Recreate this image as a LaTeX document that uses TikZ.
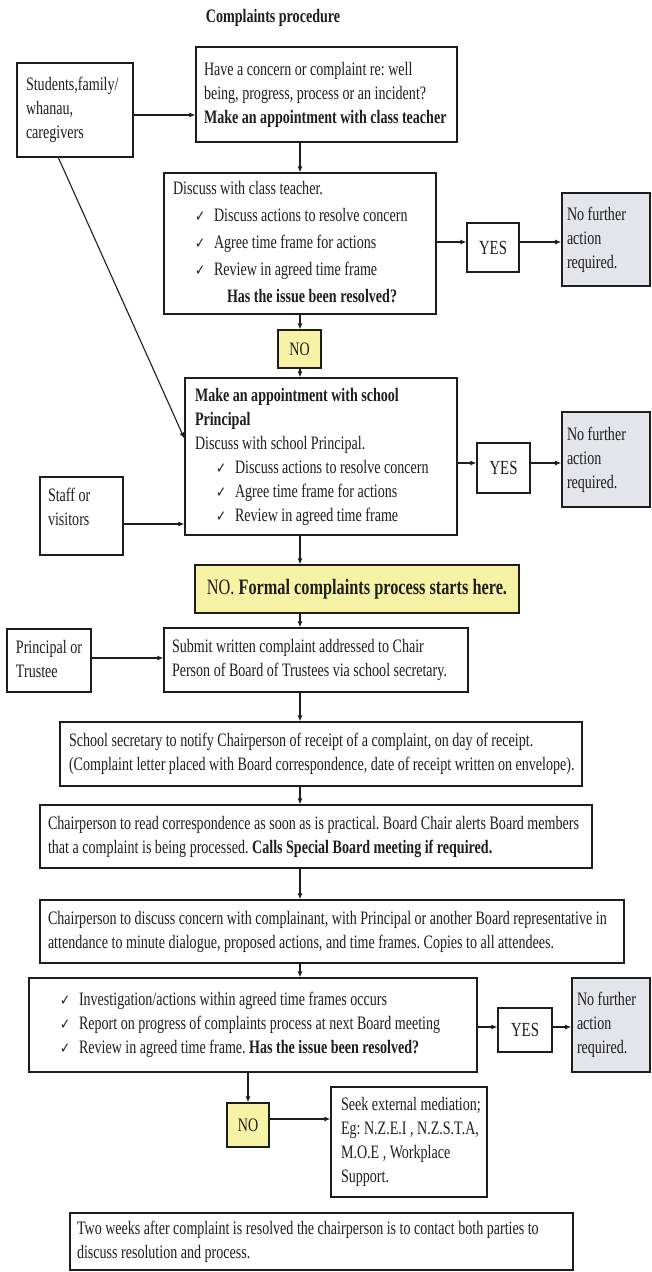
\documentclass[tikz,border=0pt]{standalone}
\usepackage{fontspec}
\setmainfont{Liberation Serif}[FakeStretch=0.74]
\newfontfamily\ckfont{DejaVu Sans}[FakeStretch=0.8]
\usetikzlibrary{arrows.meta,calc}
\definecolor{nofill}{HTML}{F6F2A6}
\definecolor{grayfill}{HTML}{E4E5EA}
\definecolor{ink}{HTML}{1E1E1E}
\newcommand\fs{\fontsize{19pt}{24pt}\selectfont\frenchspacing}
\newcommand\bt[2]{\makebox[#1][l]{\begin{tabular}{@{}l@{}}#2\end{tabular}}}
\newcommand\ck{\makebox[19pt][l]{{\ckfont\fontsize{15pt}{15pt}\selectfont ✓}}}
\newcommand\itm[2]{\hspace*{#1}\ck #2}
\begin{document}
\begin{tikzpicture}[x=1pt,y=-1pt,
  every node/.style={font=\fs, text=ink},
  box/.style={draw=ink, line width=1.3pt, fill=white, inner ysep=0pt},
  graybox/.style={box, fill=grayfill, line width=1.6pt},
  nobox/.style={box, fill=nofill},
  yesbox/.style={box, inner sep=0pt, font=\fontsize{20pt}{24pt}\selectfont},
  arr/.style={-{Latex[length=6pt,width=5pt]}, line width=1.1pt, draw=ink}]
\fill[white] (0,0) rectangle (652,1272);
\useasboundingbox (0,0) rectangle (652,1272);

\node[font=\fs\bfseries] (title) at (273,18) {Complaints procedure};

\node[box, minimum width=116pt, minimum height=94pt, inner xsep=9pt] (students) at (75,110)
  {\bt{98pt}{Students,family/\\whanau,\\caregivers}};
\node[box, minimum width=261pt, minimum height=95pt, inner xsep=8pt] (concern) at (326.5,94.5)
  {\bt{245pt}{Have a concern or complaint re: well\\being, progress, process or an incident?\\\textbf{Make an appointment with class teacher}}};
\node[box, minimum width=272pt, minimum height=141pt, inner xsep=9pt] (discuss) at (300,243.5)
  {\bt{254pt}{Discuss with class teacher.\\[3pt]
   \itm{22pt}{Discuss actions to resolve concern}\\[3pt]
   \itm{22pt}{Agree time frame for actions}\\[3pt]
   \itm{22pt}{Review in agreed time frame}\\[3pt]
   \hspace*{54pt}\textbf{Has the issue been resolved?}}};
\node[yesbox, minimum width=52pt, minimum height=49pt] (yes1) at (493,247.5) {YES};
\node[graybox, minimum width=88pt, minimum height=93pt, inner xsep=5pt] (gray1) at (606,239.5)
  {\bt{78pt}{No further\\action\\required.}};
\node[nobox, minimum width=43pt, minimum height=38pt, inner sep=0pt] (no1) at (299.5,349) {NO};
\node[box, minimum width=272pt, minimum height=157pt, inner xsep=10pt] (principal) at (321,456.5)
  {\bt{252pt}{\textbf{Make an appointment with school}\\\textbf{Principal}\\Discuss with school Principal.\\
   \itm{21pt}{Discuss actions to resolve concern}\\
   \itm{21pt}{Agree time frame for actions}\\
   \itm{21pt}{Review in agreed time frame}}};
\node[yesbox, minimum width=53pt, minimum height=50pt] (yes2) at (503.5,468) {YES};
\node[graybox, minimum width=88pt, minimum height=95pt, inner xsep=5pt] (gray2) at (606,459.5)
  {\bt{78pt}{No further\\action\\required.}};
\node[box, minimum width=83pt, minimum height=78pt, inner xsep=8pt] (staff) at (81.5,516)
  {\bt{67pt}{Staff or\\visitors\\[14pt]}};
\node[nobox, minimum width=324pt, minimum height=48pt, inner sep=0pt, font=\fontsize{22pt}{24pt}\selectfont] (formal) at (357,589)
  {NO. \textbf{Formal complaints process starts here.}};
\node[box, minimum width=304pt, minimum height=64pt, inner xsep=8pt] (submit) at (316,660)
  {\bt{288pt}{Submit written complaint addressed to Chair\\Person of Board of Trustees via school secretary.}};
\node[box, minimum width=84pt, minimum height=63pt, inner xsep=9pt] (trustee) at (49,660.5)
  {\bt{66pt}{Principal or\\Trustee}};
\node[box, minimum width=522pt, minimum height=64pt, inner xsep=9pt] (secretary) at (321,754)
  {\bt{504pt}{School secretary to notify Chairperson of receipt of a complaint, on day of receipt.\\(Complaint letter placed with Board correspondence, date of receipt written on envelope).}};
\node[box, minimum width=552pt, minimum height=63pt, inner xsep=8pt] (chair) at (316,836.5)
  {\bt{536pt}{Chairperson to read correspondence as soon as is practical. Board Chair alerts Board members\\that a complaint is being processed. \textbf{Calls Special Board meeting if required.}}};
\node[box, minimum width=584pt, minimum height=63pt, inner xsep=8pt] (complainant) at (332,931.5)
  {\bt{568pt}{Chairperson to discuss concern with complainant, with Principal or another Board representative in\\attendance to minute dialogue, proposed actions, and time frames. Copies to all attendees.}};
\node[box, minimum width=448pt, minimum height=94pt, inner xsep=10pt] (invest) at (253,1025)
  {\bt{428pt}{\itm{21pt}{Investigation/actions within agreed time frames occurs}\\
   \itm{21pt}{Report on progress of complaints process at next Board meeting}\\
   \itm{21pt}{Review in agreed time frame. \textbf{Has the issue been resolved?}}}};
\node[yesbox, minimum width=54pt, minimum height=44pt] (yes3) at (525,1030) {YES};
\node[graybox, minimum width=78pt, minimum height=94pt, inner xsep=5pt] (gray3) at (611,1025)
  {\bt{68pt}{No further\\action\\required.}};
\node[nobox, minimum width=42pt, minimum height=44pt, inner sep=0pt] (no2) at (248,1125) {NO};
\node[box, minimum width=156pt, minimum height=110pt, inner xsep=10pt] (seek) at (409,1142)
  {\bt{136pt}{Seek external mediation;\\Eg: N.Z.E.I , N.Z.S.T.A,\\M.O.E , Workplace\\Support.}};
\node[box, minimum width=503pt, minimum height=57pt, inner xsep=7pt] (twoweeks) at (321.5,1241.5)
  {\bt{489pt}{Two weeks after complaint is resolved the chairperson is to contact both parties to\\discuss resolution and process.}};

% helper coordinates
\coordinate (sp) at (300,0);
\coordinate (r0) at (0,115);
\coordinate (r1) at (0,242);
\coordinate (r2) at (0,463);
\coordinate (rs) at (0,524);
\coordinate (rt) at (0,658);
\coordinate (r3) at (0,1027);
\coordinate (r4) at (0,1119);

\draw[arr] (students.east |- r0) -- (concern.west |- r0);
\draw[arr] (concern.south -| sp) -- (discuss.north -| sp);
\draw[arr] (discuss.east |- r1) -- (yes1.west |- r1);
\draw[arr] (yes1.east |- r1) -- (gray1.west |- r1);
\draw[arr] (discuss.south -| sp) -- (no1.north -| sp);
\draw[arr] (no1.south -| sp) -- (principal.north -| sp);
\draw[arr] ($(students.south west)+(42,0)$) -- ($(principal.west)+(0,-18)$);
\draw[arr] (principal.east |- r2) -- (yes2.west |- r2);
\draw[arr] (yes2.east |- r2) -- (gray2.west |- r2);
\draw[arr] (staff.east |- rs) -- (principal.west |- rs);
\draw[arr] (principal.south -| sp) -- (formal.north -| sp);
\draw[arr] (formal.south -| sp) -- (submit.north -| sp);
\draw[arr] (trustee.east |- rt) -- (submit.west |- rt);
\draw[arr] (submit.south -| sp) -- (secretary.north -| sp);
\draw[arr] (secretary.south -| sp) -- (chair.north -| sp);
\draw[arr] (chair.south -| sp) -- (complainant.north -| sp);
\draw[arr] (complainant.south -| sp) -- (invest.north -| sp);
\draw[arr] (invest.east |- r3) -- (yes3.west |- r3);
\draw[arr] (yes3.east |- r3) -- (gray3.west |- r3);
\draw[arr] (invest.south -| no2.north) -- (no2.north);
\draw[arr] (no2.east |- r4) -- (seek.west |- r4);
\end{tikzpicture}
\end{document}
